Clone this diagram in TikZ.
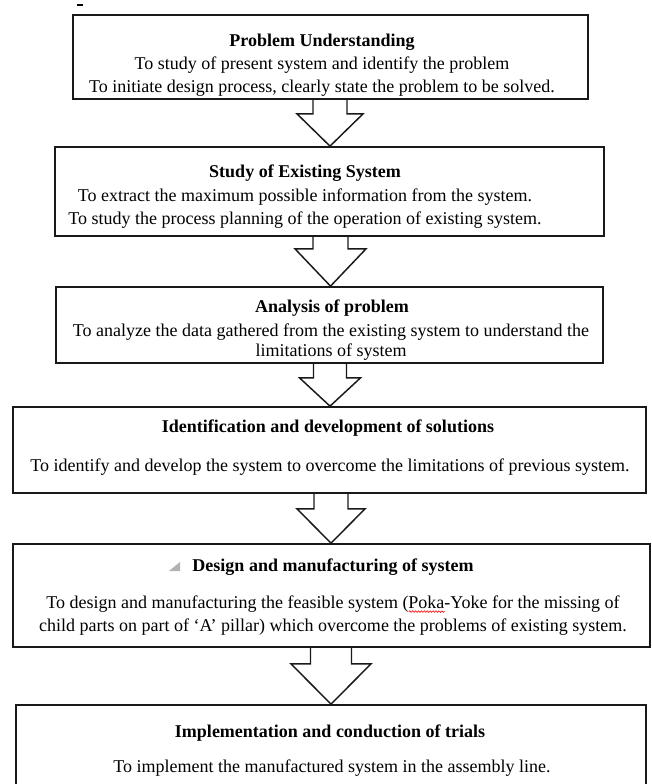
\documentclass[tikz,border=0pt]{standalone}
\usepackage{fontspec}
\setmainfont{Liberation Serif}
\usetikzlibrary{calc,fit,decorations.pathmorphing}
\newcommand\spellwave[1]{\begingroup\setbox0=\hbox{#1}\leavevmode\rlap{\raisebox{-3.2pt}{\tikz[x=1pt,y=1pt]\draw[red, line width=0.45pt, decorate, decoration={snake, amplitude=0.6pt, segment length=2.2pt}] (0,0) -- (\wd0,0);}}\box0\endgroup}
\newcommand\flowarrow[6]{%
  \path ($(#1.south -| 0,0)+(#6,0)$) coordinate (atop)
        ($(#2.north -| 0,0)+(#6,0)$) coordinate (atip);
  \draw[arr] ($(atop)+(-#3,0)$) -- ($(atop)+(-#3,#5)$) -- ($(atop)+(-#4,#5)$)
    -- (atip) -- ($(atop)+(#4,#5)$) -- ($(atop)+(#3,#5)$) -- ($(atop)+(#3,0)$);
}
\tikzset{
  box/.style={draw=black!90, line width=1.3pt, inner sep=0pt, rectangle},
  arr/.style={draw=black!90, line width=1.1pt, line join=miter},
  ttl/.style={font=\fontsize{13.5}{15}\selectfont\bfseries, inner sep=0pt},
  bdy/.style={font=\fontsize{13.5}{17.25}\selectfont, align=center, inner sep=0pt},
}
\begin{document}
\begin{tikzpicture}[x=0.75pt, y=-0.75pt]
\path[use as bounding box, clip] (0,0) rectangle (652,784);
\fill[white] (0,0) rectangle (652,784);

% stray mark
\draw[line width=1.1pt] (77,5) -- (83,5);

% boxes
\node[box, fit={(73,15) (588,99)}] (b1) {};
\node[box, fit={(55,147) (604,236)}] (b2) {};
\node[box, fit={(56,287) (603,363)}] (b3) {};
\node[box, fit={(13,407) (646,493)}] (b4) {};
\node[box, fit={(13,544) (650,647)}] (b5) {};
\node[box, fit={(16,705) (646,800)}] (b6) {};

% texts
\node[ttl] (t1) at (322,42) {Problem Understanding};
\node[bdy] (d1) at (322,76.5) {To study of present system and identify the problem\\To initiate design process, clearly state the problem to be solved.};

\node[ttl] (t2) at (305,173) {Study of Existing System};
\node[bdy] (d2) at (305,209) {To extract the maximum possible information from the system.\\To study the process planning of the operation of existing system.};

\node[ttl] (t3) at (332,308) {Analysis of problem};
\node[bdy, font=\fontsize{13.5}{15.5}\selectfont] (d3) at (331,342) {To analyze the data gathered from the existing system to understand the\\limitations of system};

\node[ttl] (t4) at (328,428) {Identification and development of solutions};
\node[bdy] (d4) at (330,467) {To identify and develop the system to overcome the limitations of previous system.};

\node[ttl] (t5) at (333,567) {Design and manufacturing of system};
\fill[black!30] (169,571) -- (180,571) -- (180,562) -- cycle;
\node[bdy] (d5) at (333,615.5) {To design and manufacturing the feasible system (\spellwave{Poka}-Yoke for the missing of\\child parts on part of ‘A’ pillar) which overcome the problems of existing system.};

\node[ttl] (t6) at (330,733) {Implementation and conduction of trials};
\node[bdy] (d6) at (332,768) {To implement the manufactured system in the assembly line.};

% block arrows
\flowarrow{b1}{b2}{17}{33}{14}{330}
\flowarrow{b2}{b3}{17.5}{35.5}{12}{330.5}
\flowarrow{b3}{b4}{16.5}{30.5}{14}{330}
\flowarrow{b4}{b5}{17}{34}{15}{331}
\flowarrow{b5}{b6}{20.5}{40}{16}{331}
\end{tikzpicture}
\end{document}
